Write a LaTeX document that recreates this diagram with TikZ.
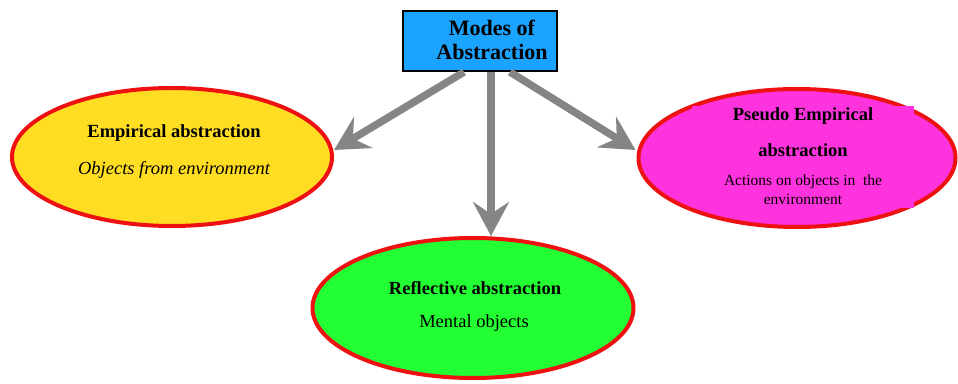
\documentclass[tikz,border=0pt]{standalone}
\usepackage{fontspec}
\setmainfont{Liberation Serif}
\usetikzlibrary{shapes.geometric,arrows.meta}
\definecolor{boxblue}{HTML}{1AA3FF}
\definecolor{empyellow}{HTML}{FFDD22}
\definecolor{pseudopink}{HTML}{FF33DD}
\definecolor{reflgreen}{HTML}{22FF33}
\definecolor{rimred}{HTML}{EE1111}
\definecolor{arrowgray}{HTML}{858585}
\tikzset{
  modebubble/.style={ellipse, draw=rimred, line width=4pt, inner sep=0pt},
  headtxt/.style={font=\fontsize{18.5}{21}\selectfont\bfseries, inner sep=0pt},
  bodytxt/.style={font=\fontsize{18.5}{21}\selectfont, inner sep=0pt},
  smalltxt/.style={font=\fontsize{15.5}{19}\selectfont, inner sep=0pt, align=center},
  bigarrow/.style={draw=arrowgray, line width=7.5pt,
    -{Stealth[length=34pt, width=36pt, inset=12pt, fill=arrowgray]}},
}
\begin{document}
\begin{tikzpicture}[x=1pt,y=1pt]
  \useasboundingbox (0,0) rectangle (958,383);

  % central box and its title
  \node[draw=black, line width=2pt, fill=boxblue, minimum width=154pt,
        minimum height=60pt, inner sep=0pt] (top) at (480,342) {};
  \node[align=center, inner sep=0pt, font=\fontsize{22}{24}\selectfont\bfseries]
        (title) at (492,343) {Modes of\\Abstraction};

  % three modes
  \node[modebubble, fill=empyellow, minimum width=320pt, minimum height=138pt]
        (emp) at (172,226) {};
  \node[modebubble, fill=pseudopink, minimum width=317pt, minimum height=138pt]
        (pse) at (797,225) {};
  % text panel laid over the pink bubble
  \fill[pseudopink] (692,277) rectangle (914,175);
  \node[modebubble, fill=reflgreen, minimum width=321pt, minimum height=140pt]
        (ref) at (473,75) {};

  % labels
  \node[headtxt] (empA) at (174,250) {Empirical abstraction};
  \node[bodytxt] (empB) at (174,213) {\itshape Objects from environment};

  \node[headtxt] (pseA) at (803,267) {Pseudo Empirical};
  \node[headtxt] (pseB) at (803,233) {abstraction};
  \node[smalltxt] (pseC) at (803,193) {Actions on objects in\ \ the\\environment};

  \node[headtxt] (refA) at (475,95) {Reflective abstraction};
  \node[bodytxt] (refB) at (474,60) {Mental objects};

  % arrows from the box
  \coordinate (s1) at ([xshift=-16pt]top.south);
  \coordinate (s2) at ([xshift=11pt]top.south);
  \coordinate (s3) at ([xshift=30pt]top.south);
  \draw[bigarrow] (s1) -- ([yshift=7pt]emp.east);
  \draw[bigarrow] (s2) -- (s2 |- ref.north);
  \draw[bigarrow] (s3) -- ([xshift=-1pt,yshift=8pt]pse.west);
\end{tikzpicture}
\end{document}
